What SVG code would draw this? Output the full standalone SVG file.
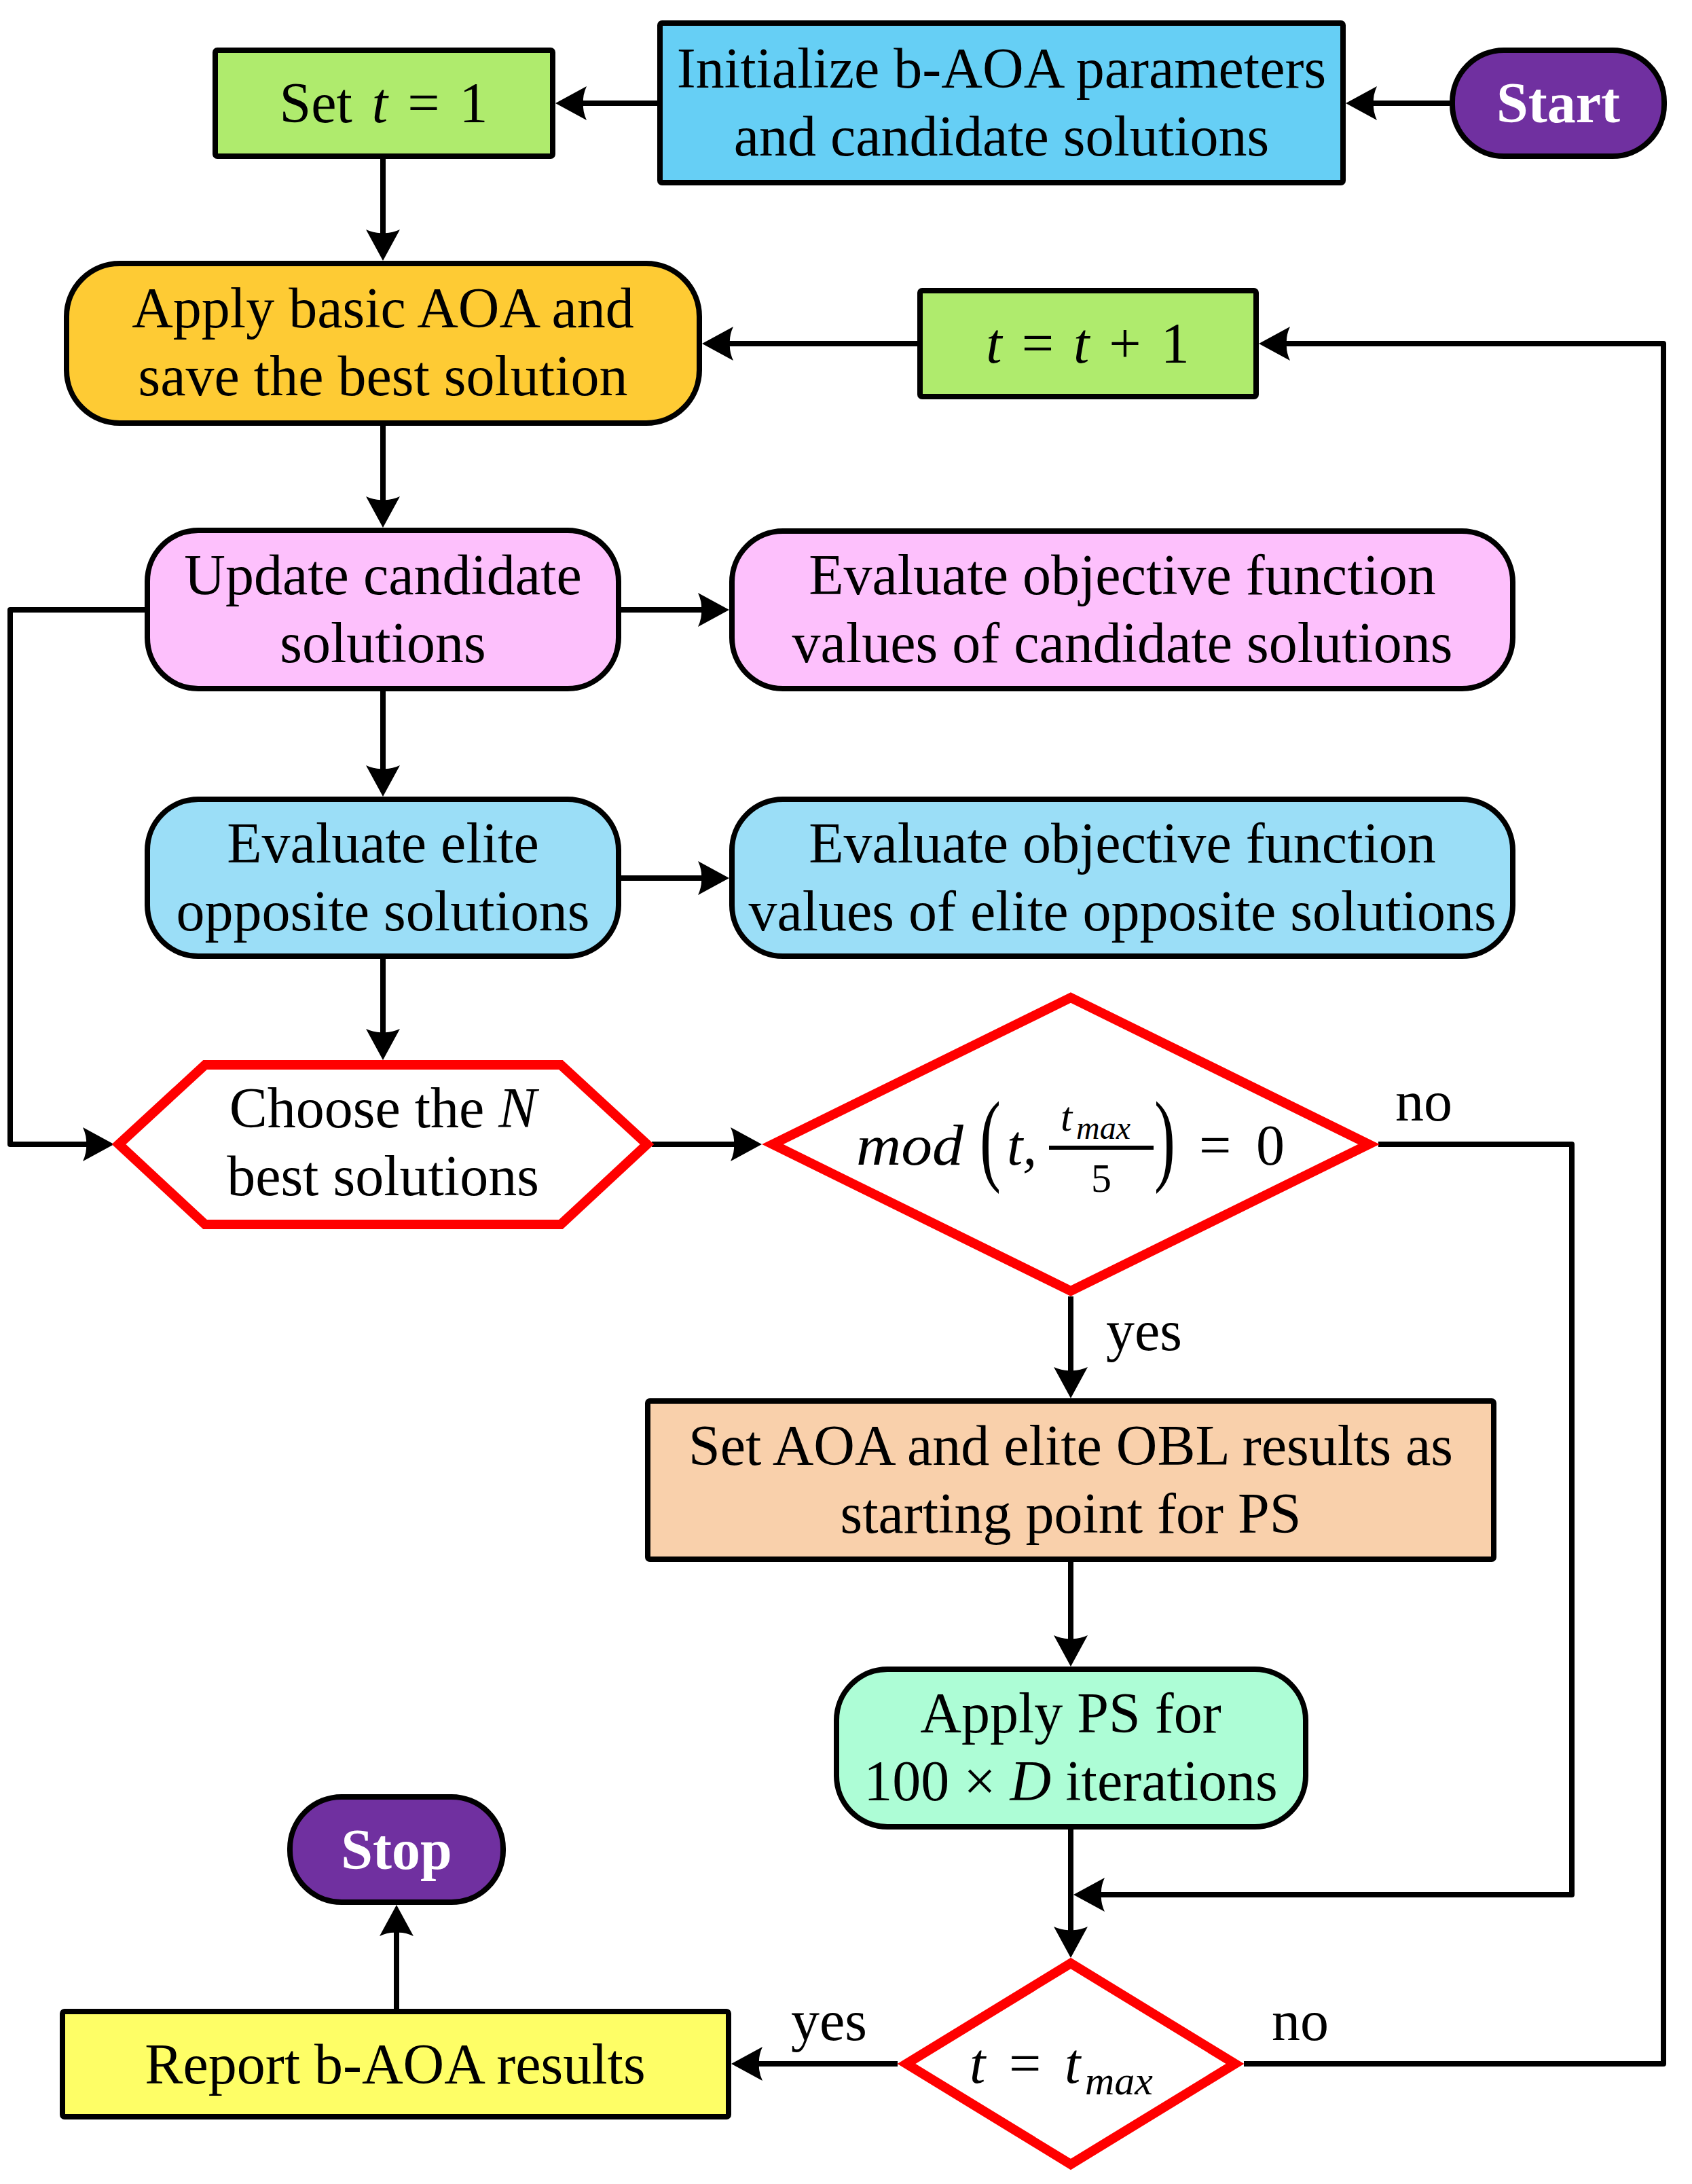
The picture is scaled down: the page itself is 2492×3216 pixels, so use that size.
<svg xmlns="http://www.w3.org/2000/svg" width="2492" height="3216" viewBox="0 0 2492 3216">
<style>
.box{stroke:#000;stroke-width:8}
.red{fill:#fff;stroke:#f00;stroke-width:14;stroke-linejoin:miter}
.conn{fill:none;stroke:#000;stroke-width:8;stroke-linejoin:round;marker-end:url(#arr)}
.t{font-family:"Liberation Serif","Times New Roman",serif;font-size:84px;fill:#000;text-anchor:middle}
.s{text-anchor:start}
.i{font-style:italic}
.w{fill:#fff;font-weight:bold}
.big{font-size:150px}
.num{font-size:62px}
.sub{font-size:48px}
.sub2{font-size:60px}
</style>
<defs>
<marker id="arr" markerUnits="userSpaceOnUse" markerWidth="46" markerHeight="50" viewBox="0 0 46 50" refX="26" refY="25" orient="auto">
<path d="M46,25 L0,0 Q6,13 5,25 Q6,37 0,50 Z" fill="#000"/>
</marker>
</defs>
<rect width="2492" height="3216" fill="#fff"/>

<g id="connectors">
<path class="conn" d="M2135,152 H2002"/>
<path class="conn" d="M968,152 H838"/>
<path class="conn" d="M564,234 V364"/>
<path class="conn" d="M1351,506 H1054"/>
<path class="conn" d="M1832,3039 H2450 V506 H1874"/>
<path class="conn" d="M564,627 V757"/>
<path class="conn" d="M915,898 H1054"/>
<path class="conn" d="M564,1018 V1153"/>
<path class="conn" d="M915,1293 H1054"/>
<path class="conn" d="M564,1412 V1541"/>
<path class="conn" d="M213,898 H15 V1685 H148"/>
<path class="conn" d="M960,1685 H1102"/>
<path class="conn" d="M1577,1909 V2039"/>
<path class="conn" d="M1577,2300 V2434"/>
<path class="conn" d="M1577,2694 V2863"/>
<path class="conn" d="M2030,1685 H2315 V2790 H1601"/>
<path class="conn" d="M1322,3039 H1097"/>
<path class="conn" d="M584,2958 V2825"/>
</g>

<g id="labels">
<text class="t s" x="2055" y="1650">no</text>
<text class="t s" x="1629" y="1988">yes</text>
<text class="t s" x="1165" y="3004">yes</text>
<text class="t s" x="1873" y="3004">no</text>
</g>

<g id="start">
<rect class="box" x="2139" y="74" width="312" height="156" rx="76" ry="76" fill="#7030A0"/>
<text class="t w" x="2295" y="180">Start</text>
</g>

<g id="init">
<rect class="box" x="972" y="34" width="1006" height="235" rx="3" fill="#66CFF5"/>
<text class="t" x="1475" y="129">Initialize b-AOA parameters</text>
<text class="t" x="1475" y="229">and candidate solutions</text>
</g>

<g id="set-t">
<rect class="box" x="317" y="74" width="497" height="156" rx="3" fill="#AFEB6D"/>
<text class="t" x="565" y="180" word-spacing="8">Set <tspan class="i">t</tspan> = 1</text>
</g>

<g id="apply-aoa">
<rect class="box" x="98" y="388" width="932" height="235" rx="78" ry="78" fill="#FECB34"/>
<text class="t" x="564" y="482">Apply basic AOA and</text>
<text class="t" x="564" y="582">save the best solution</text>
</g>

<g id="t-inc">
<rect class="box" x="1355" y="428" width="495" height="156" rx="3" fill="#AFEB6D"/>
<text class="t" x="1602" y="534" word-spacing="8"><tspan class="i">t</tspan> = <tspan class="i">t</tspan> + 1</text>
</g>

<g id="update">
<rect class="box" x="217" y="781" width="694" height="233" rx="75" ry="75" fill="#FDC0FC"/>
<text class="t" x="564" y="875">Update candidate</text>
<text class="t" x="564" y="975">solutions</text>
</g>

<g id="eval-cand">
<rect class="box" x="1078" y="782" width="1150" height="232" rx="75" ry="75" fill="#FDC0FC"/>
<text class="t" x="1653" y="875">Evaluate objective function</text>
<text class="t" x="1653" y="975">values of candidate solutions</text>
</g>

<g id="eval-elite">
<rect class="box" x="217" y="1177" width="694" height="231" rx="75" ry="75" fill="#9BDEF7"/>
<text class="t" x="564" y="1270">Evaluate elite</text>
<text class="t" x="564" y="1370">opposite solutions</text>
</g>

<g id="eval-obj-elite">
<rect class="box" x="1078" y="1177" width="1150" height="231" rx="75" ry="75" fill="#9BDEF7"/>
<text class="t" x="1653" y="1270">Evaluate objective function</text>
<text class="t" x="1653" y="1370">values of elite opposite solutions</text>
</g>

<g id="choose">
<polygon class="red" points="175,1685 302,1568 826,1568 953,1685 826,1803 302,1803"/>
<text class="t" x="564" y="1660">Choose the <tspan class="i">N</tspan></text>
<text class="t" x="564" y="1760">best solutions</text>
</g>

<g id="mod-check">
<polygon class="red" points="1138,1685 1577,1469 2016,1685 1577,1901"/>
<text class="t s i" x="1261" y="1715" textLength="158" lengthAdjust="spacingAndGlyphs">mod</text>
<text class="t s big" transform="translate(1443,1726) scale(0.62,1)">(</text>
<text class="t s i" x="1483" y="1715">t,</text>
<text class="t s i num" x="1562" y="1665">t</text>
<text class="t s i sub" x="1585" y="1677">max</text>
<rect x="1545" y="1687" width="154" height="6" fill="#000"/>
<text class="t s sub2" x="1607" y="1755">5</text>
<text class="t s big" transform="translate(1700,1726) scale(0.62,1)">)</text>
<text class="t s" x="1766" y="1715">=</text>
<text class="t s" x="1850" y="1715">0</text>
</g>

<g id="set-ps">
<rect class="box" x="954" y="2063" width="1246" height="233" rx="3" fill="#F9D0AB"/>
<text class="t" x="1577" y="2157">Set AOA and elite OBL results as</text>
<text class="t" x="1577" y="2257">starting point for PS</text>
</g>

<g id="apply-ps">
<rect class="box" x="1232" y="2458" width="691" height="232" rx="75" ry="75" fill="#ADFDD6"/>
<text class="t" x="1577" y="2551">Apply PS for</text>
<text class="t" x="1577" y="2651">100 × <tspan class="i">D</tspan> iterations</text>
</g>

<g id="tmax-check">
<polygon class="red" points="1335,3039 1577,2891 1819,3039 1577,3187"/>
<text class="t s i" x="1428" y="3067">t</text>
<text class="t s" x="1486" y="3067">=</text>
<text class="t s i" x="1568" y="3067">t</text>
<text class="t s i sub2" x="1598" y="3084">max</text>
</g>

<g id="report">
<rect class="box" x="92" y="2962" width="981" height="155" rx="3" fill="#FEFE66"/>
<text class="t" x="582" y="3068">Report b-AOA results</text>
</g>

<g id="stop">
<rect class="box" x="427" y="2646" width="314" height="155" rx="76" ry="76" fill="#7030A0"/>
<text class="t w" x="584" y="2752">Stop</text>
</g>
</svg>
